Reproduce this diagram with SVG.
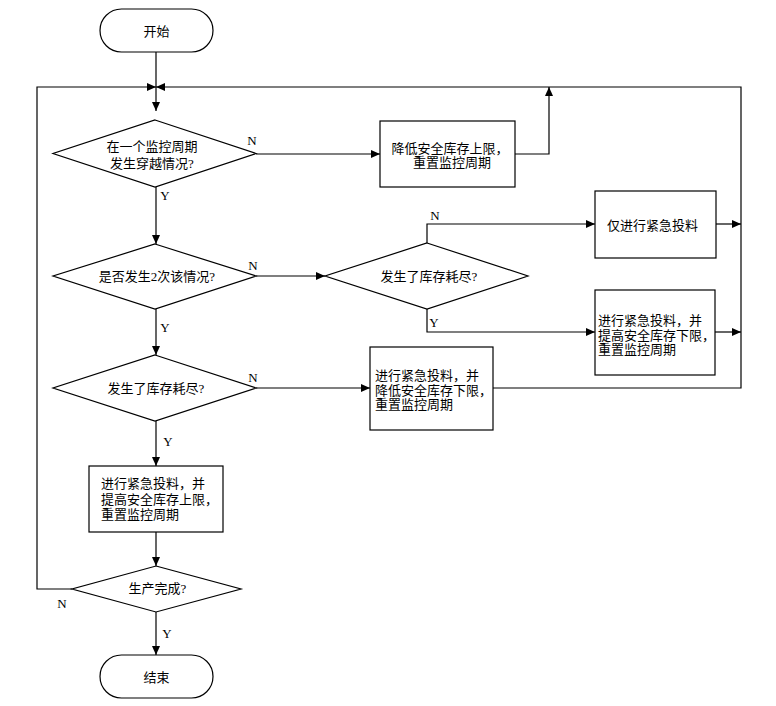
<svg xmlns="http://www.w3.org/2000/svg" width="776" height="706" viewBox="0 0 776 706">
<style>
.shape{fill:#fff;stroke:#000;stroke-width:1.2}
.conn{fill:none;stroke:#000;stroke-width:1.2}
.t{font-family:"Liberation Serif","Noto Sans CJK SC",serif;font-size:13px;fill:#000}
.c{text-anchor:middle}
.lbl{font-family:"Liberation Serif",serif;font-size:13px;fill:#000;text-anchor:middle}
</style>
<defs>
<marker id="arr" markerUnits="userSpaceOnUse" markerWidth="9" markerHeight="8" refX="9" refY="4" orient="auto">
<path d="M0,0 L9,4 L0,8 z" fill="#000"/>
</marker>
</defs>
<rect width="776" height="706" fill="#fff"/>
<g id="connectors">
<path class="conn" d="M156,52 V87"/>
<path class="conn" d="M72,589 H37 V87 H156" marker-end="url(#arr)"/>
<path class="conn" d="M493,388 H741 V87 H156" marker-end="url(#arr)"/>
<path class="conn" d="M515,154 H549 V87" marker-end="url(#arr)"/>
<path class="conn" d="M156,87 V111" marker-end="url(#arr)"/>
<path class="conn" d="M256,154 H380" marker-end="url(#arr)"/>
<path class="conn" d="M156,187 V244" marker-end="url(#arr)"/>
<path class="conn" d="M256,276 H325" marker-end="url(#arr)"/>
<path class="conn" d="M427,243 V224 H595" marker-end="url(#arr)"/>
<path class="conn" d="M716,224 H741" marker-end="url(#arr)"/>
<path class="conn" d="M427,309 V332 H595" marker-end="url(#arr)"/>
<path class="conn" d="M715,332 H741" marker-end="url(#arr)"/>
<path class="conn" d="M156,309 V355" marker-end="url(#arr)"/>
<path class="conn" d="M256,388 H370" marker-end="url(#arr)"/>
<path class="conn" d="M156,421 V466" marker-end="url(#arr)"/>
<path class="conn" d="M156,532 V566" marker-end="url(#arr)"/>
<path class="conn" d="M156,612 V655" marker-end="url(#arr)"/>
<text class="lbl" x="252" y="145">N</text>
<text class="lbl" x="165" y="200">Y</text>
<text class="lbl" x="253" y="270">N</text>
<text class="lbl" x="165" y="332">Y</text>
<text class="lbl" x="435" y="220">N</text>
<text class="lbl" x="434" y="327">Y</text>
<text class="lbl" x="253" y="382">N</text>
<text class="lbl" x="168" y="446">Y</text>
<text class="lbl" x="62" y="608">N</text>
<text class="lbl" x="167" y="638">Y</text>
</g>
<g id="start">
<rect class="shape" x="100" y="9" width="113" height="43" rx="21.5"/>
<text class="t c" x="156.5" y="36">开始</text>
</g>
<g id="d1">
<polygon class="shape" points="155,120 256,153.5 155,187 53,153.5"/>
<text class="t c" x="152" y="151">在一个监控周期</text>
<text class="t c" x="152" y="168">发生穿越情况?</text>
</g>
<g id="b1">
<rect class="shape" x="380" y="121" width="135" height="66"/>
<text class="t c" x="450" y="153">降低安全库存上限，</text>
<text class="t c" x="452" y="167">重置监控周期</text>
</g>
<g id="d2">
<polygon class="shape" points="155,244 256,276 155,309 53,276"/>
<text class="t c" x="157" y="281">是否发生2次该情况?</text>
</g>
<g id="d3">
<polygon class="shape" points="427,243 528,276 427,309 325,276"/>
<text class="t c" x="429" y="281">发生了库存耗尽?</text>
</g>
<g id="b2">
<rect class="shape" x="595" y="191" width="121" height="67"/>
<text class="t c" x="652.5" y="230">仅进行紧急投料</text>
</g>
<g id="b3">
<rect class="shape" x="595" y="290" width="120" height="85"/>
<text class="t" x="598" y="325">进行紧急投料，并</text>
<text class="t" x="598" y="340">提高安全库存下限，</text>
<text class="t" x="598" y="354">重置监控周期</text>
</g>
<g id="d4">
<polygon class="shape" points="155,355 256,388 155,421 53,388"/>
<text class="t c" x="156" y="393">发生了库存耗尽?</text>
</g>
<g id="b4">
<rect class="shape" x="370" y="347" width="123" height="83"/>
<text class="t" x="375" y="380">进行紧急投料，并</text>
<text class="t" x="375" y="395">降低安全库存下限，</text>
<text class="t" x="375" y="409">重置监控周期</text>
</g>
<g id="b5">
<rect class="shape" x="89" y="466" width="134" height="66"/>
<text class="t" x="101" y="488">进行紧急投料，并</text>
<text class="t" x="101" y="504">提高安全库存上限，</text>
<text class="t" x="101" y="519">重置监控周期</text>
</g>
<g id="d5">
<polygon class="shape" points="156,566 241,589 156,612 72,589"/>
<text class="t c" x="157.5" y="593">生产完成?</text>
</g>
<g id="end">
<rect class="shape" x="100" y="655" width="113" height="43" rx="21.5"/>
<text class="t c" x="156.5" y="682">结束</text>
</g>
</svg>
